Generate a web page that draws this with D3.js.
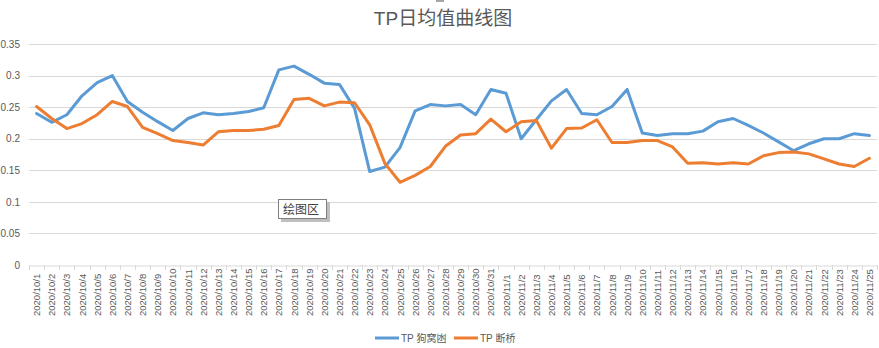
<!DOCTYPE html>
<html>
<head>
<meta charset="utf-8">
<script src="https://cdn.jsdelivr.net/npm/d3@7"></script>
<style>
html,body{margin:0;padding:0;background:#fff;}
svg{display:block;}
text{font-family:"Liberation Sans","Noto Sans CJK SC",sans-serif;}
</style>
</head>
<body>
<svg id="chart" width="879" height="348"></svg>
<script>
const title = "TP日均值曲线图";
const seriesNames = ["TP 狗窝凼", "TP 断桥"];
const seriesColors = ["#5B9BD5", "#ED7D31"];
const dates = [
 "2020/10/1","2020/10/2","2020/10/3","2020/10/4","2020/10/5","2020/10/6","2020/10/7","2020/10/8","2020/10/9","2020/10/10",
 "2020/10/11","2020/10/12","2020/10/13","2020/10/14","2020/10/15","2020/10/16","2020/10/17","2020/10/18","2020/10/19","2020/10/20",
 "2020/10/21","2020/10/22","2020/10/23","2020/10/24","2020/10/25","2020/10/26","2020/10/27","2020/10/28","2020/10/29","2020/10/30",
 "2020/10/31","2020/11/1","2020/11/2","2020/11/3","2020/11/4","2020/11/5","2020/11/6","2020/11/7","2020/11/8","2020/11/9",
 "2020/11/10","2020/11/11","2020/11/12","2020/11/13","2020/11/14","2020/11/15","2020/11/16","2020/11/17","2020/11/18","2020/11/19",
 "2020/11/20","2020/11/21","2020/11/22","2020/11/23","2020/11/24","2020/11/25"];
const gouwodang = [
 0.240,0.226,0.238,0.268,0.289,0.300,0.259,0.242,0.227,0.213,
 0.232,0.241,0.238,0.240,0.243,0.249,0.309,0.315,0.302,0.288,
 0.286,0.248,0.148,0.155,0.186,0.244,0.254,0.252,0.254,0.238,
 0.278,0.272,0.200,0.230,0.260,0.278,0.240,0.238,0.251,0.278,
 0.209,0.205,0.208,0.208,0.212,0.227,0.232,0.221,0.209,0.195,
 0.181,0.192,0.200,0.200,0.208,0.205];
const duanqiao = [
 0.251,0.232,0.216,0.224,0.238,0.259,0.251,0.218,0.208,0.197,
 0.194,0.190,0.211,0.213,0.213,0.215,0.221,0.262,0.264,0.252,
 0.258,0.257,0.222,0.161,0.131,0.142,0.156,0.188,0.206,0.208,
 0.231,0.211,0.227,0.229,0.185,0.216,0.217,0.230,0.194,0.194,
 0.197,0.197,0.187,0.161,0.162,0.160,0.162,0.160,0.173,0.178,
 0.179,0.176,0.168,0.160,0.156,0.169];
const yTicks = [0,0.05,0.1,0.15,0.2,0.25,0.3,0.35];

(function(){
const svg = d3.select("#chart");
const mLeft = 29, mRight = 877, mTop = 44, mBottom = 265;

const x = d3.scaleBand().domain(dates).range([mLeft, mRight]).padding(0);
const y = d3.scaleLinear().domain([0, 0.35]).range([mBottom, mTop]);

// small handle at top
svg.append("rect").attr("x",436).attr("y",0).attr("width",8).attr("height",2).attr("fill","#a6a6a6");

// title
svg.append("text").attr("x", 443).attr("y", 25).attr("text-anchor","middle")
  .attr("font-size", 19).attr("fill","#595959")
  .attr("font-family","'Noto Sans CJK SC',sans-serif")
  .text(title);

// gridlines
svg.append("g").selectAll("line").data(yTicks.filter(d=>d>0)).join("line")
  .attr("x1", mLeft).attr("x2", mRight)
  .attr("y1", d=>Math.round(y(d))+0.5).attr("y2", d=>Math.round(y(d))+0.5)
  .attr("stroke","#d9d9d9").attr("stroke-width",1);

// y axis labels
const yAxis = d3.axisLeft(y).tickValues(yTicks).tickSize(0).tickPadding(0).tickFormat(d=>String(d));
const yg = svg.append("g").attr("transform",`translate(${mLeft-9},0)`).call(yAxis);
yg.select(".domain").remove();
yg.selectAll("text").attr("font-size",10).attr("fill","#595959").attr("font-family","'Liberation Sans',sans-serif");

// x axis
const xAxis = d3.axisBottom(x).tickSize(0).tickFormat(()=>"");
const xg = svg.append("g").attr("transform",`translate(0,${mBottom+0.5})`).call(xAxis);
xg.select(".domain").attr("stroke","#d9d9d9");
xg.selectAll(".tick").remove();
// boundary ticks
const bounds = dates.map(d=>x(d)).concat([x(dates[dates.length-1])+x.bandwidth()]);
svg.append("g").selectAll("line").data(bounds).join("line")
  .attr("x1",d=>Math.round(d)+0.5).attr("x2",d=>Math.round(d)+0.5)
  .attr("y1",mBottom).attr("y2",mBottom+5)
  .attr("stroke","#d9d9d9");
// rotated labels
svg.append("g").selectAll("text").data(dates).join("text")
  .attr("transform", d=>`translate(${x(d)+x.bandwidth()/2+3.5},316) rotate(-90)`)
  .attr("text-anchor","start")
  .attr("font-size",9.5).attr("fill","#595959")
  .attr("font-family","'Liberation Sans',sans-serif")
  .text(d=>d);

// lines
const line = d3.line().x((d,i)=>x(dates[i])+x.bandwidth()/2).y(d=>y(d));
[gouwodang, duanqiao].forEach((s,k)=>{
  svg.append("path").datum(s).attr("d", line)
    .attr("fill","none").attr("stroke", seriesColors[k]).attr("stroke-width",3)
    .attr("stroke-linejoin","round").attr("stroke-linecap","round");
});

// tooltip "绘图区"
svg.append("rect").attr("x",281).attr("y",202).attr("width",49).attr("height",20).attr("fill","#bfbfbf");
svg.append("rect").attr("x",278.5).attr("y",199.5).attr("width",48).attr("height",19)
  .attr("fill","#fff").attr("stroke","#7f7f7f").attr("stroke-width",1);
svg.append("text").attr("x",283).attr("y",214).attr("font-size",12).attr("fill","#404040")
  .attr("font-family","'Noto Sans CJK SC',sans-serif").text("绘图区");

// legend
const legX = [375, 454];
seriesNames.forEach((n,k)=>{
  svg.append("line").attr("x1",legX[k]).attr("x2",legX[k]+24).attr("y1",338).attr("y2",338)
    .attr("stroke",seriesColors[k]).attr("stroke-width",3);
  svg.append("text").attr("x",legX[k]+26).attr("y",341.5).attr("font-size",10).attr("fill","#595959")
    .attr("font-family","'Liberation Sans','Noto Sans CJK SC',sans-serif").text(n);
});
})();
</script>
</body>
</html>
